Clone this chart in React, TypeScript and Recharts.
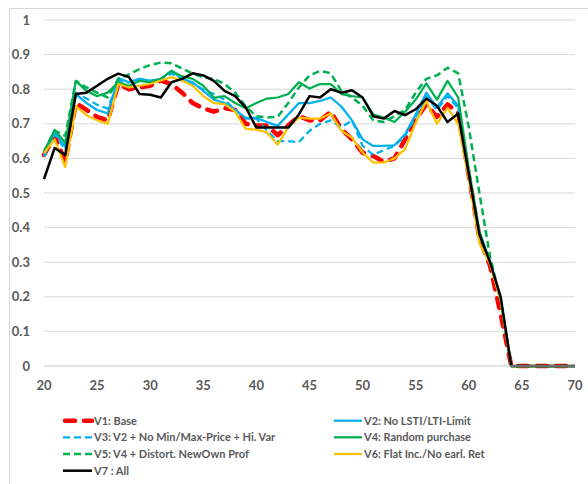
import React from "react";
import { LineChart, Line, XAxis, YAxis, CartesianGrid } from "recharts";

const ages = [20, 21, 22, 23, 24, 25, 26, 27, 28, 29, 30, 31, 32, 33, 34, 35, 36, 37, 38, 39, 40, 41, 42, 43, 44, 45, 46, 47, 48, 49, 50, 51, 52, 53, 54, 55, 56, 57, 58, 59, 60, 61, 62, 63, 64, 65, 66, 67, 68, 69, 70];

const v1Base = [0.61, 0.665, 0.59, 0.76, 0.74, 0.72, 0.71, 0.815, 0.8, 0.805, 0.81, 0.825, 0.815, 0.79, 0.76, 0.745, 0.735, 0.745, 0.74, 0.7, 0.695, 0.695, 0.667, 0.695, 0.722, 0.71, 0.71, 0.735, 0.685, 0.655, 0.616, 0.607, 0.59, 0.6, 0.655, 0.712, 0.756, 0.72, 0.756, 0.733, 0.55, 0.37, 0.29, 0.15, 0, 0, 0, 0, 0, 0, 0];
const v2NoLimit = [0.61, 0.675, 0.635, 0.786, 0.76, 0.74, 0.73, 0.832, 0.82, 0.83, 0.825, 0.83, 0.853, 0.83, 0.82, 0.795, 0.77, 0.76, 0.74, 0.717, 0.717, 0.705, 0.694, 0.727, 0.76, 0.76, 0.766, 0.776, 0.75, 0.71, 0.655, 0.636, 0.636, 0.638, 0.67, 0.727, 0.79, 0.747, 0.788, 0.752, 0.56, 0.38, 0.3, 0.19, 0, 0, 0, 0, 0, 0, 0];
const v3NoMinMax = [0.605, 0.67, 0.625, 0.79, 0.773, 0.755, 0.744, 0.824, 0.82, 0.83, 0.82, 0.83, 0.845, 0.83, 0.815, 0.8, 0.786, 0.77, 0.74, 0.715, 0.715, 0.68, 0.65, 0.65, 0.647, 0.68, 0.7, 0.71, 0.69, 0.71, 0.636, 0.61, 0.624, 0.636, 0.665, 0.72, 0.78, 0.74, 0.78, 0.745, 0.56, 0.38, 0.3, 0.19, 0, 0, 0, 0, 0, 0, 0];
const v4Random = [0.62, 0.682, 0.645, 0.824, 0.795, 0.78, 0.79, 0.82, 0.81, 0.824, 0.82, 0.83, 0.853, 0.837, 0.83, 0.81, 0.775, 0.78, 0.76, 0.745, 0.76, 0.773, 0.776, 0.786, 0.82, 0.802, 0.815, 0.815, 0.786, 0.78, 0.776, 0.727, 0.718, 0.705, 0.735, 0.77, 0.817, 0.77, 0.824, 0.776, 0.57, 0.39, 0.3, 0.19, 0, 0, 0, 0, 0, 0, 0];
const v5Distort = [0.62, 0.68, 0.665, 0.824, 0.805, 0.79, 0.776, 0.83, 0.843, 0.858, 0.87, 0.877, 0.875, 0.86, 0.845, 0.834, 0.83, 0.815, 0.79, 0.75, 0.722, 0.718, 0.72, 0.76, 0.805, 0.84, 0.853, 0.846, 0.795, 0.776, 0.752, 0.71, 0.705, 0.722, 0.74, 0.79, 0.83, 0.84, 0.862, 0.846, 0.69, 0.5, 0.316, 0.19, 0, 0, 0, 0, 0, 0, 0];
const v6Flat = [0.615, 0.655, 0.575, 0.75, 0.725, 0.71, 0.7, 0.815, 0.805, 0.81, 0.815, 0.825, 0.835, 0.825, 0.81, 0.78, 0.76, 0.757, 0.735, 0.685, 0.683, 0.675, 0.64, 0.69, 0.718, 0.715, 0.715, 0.73, 0.68, 0.66, 0.617, 0.588, 0.588, 0.6, 0.627, 0.703, 0.766, 0.7, 0.746, 0.7, 0.54, 0.355, 0.295, 0.19, 0, 0, 0, 0, 0, 0, 0];
const v7All = [0.54, 0.63, 0.61, 0.786, 0.79, 0.81, 0.83, 0.845, 0.835, 0.786, 0.784, 0.776, 0.82, 0.83, 0.846, 0.84, 0.824, 0.795, 0.78, 0.747, 0.689, 0.689, 0.689, 0.689, 0.727, 0.78, 0.776, 0.8, 0.79, 0.797, 0.776, 0.722, 0.715, 0.737, 0.725, 0.742, 0.773, 0.752, 0.705, 0.73, 0.555, 0.38, 0.3, 0.2, 0, 0, 0, 0, 0, 0, 0];

const xTicks = [20, 25, 30, 35, 40, 45, 50, 55, 60, 65, 70];
const yTicks = [0, 0.1, 0.2, 0.3, 0.4, 0.5, 0.6, 0.7, 0.8, 0.9, 1];

const seriesNames = [
  "V1: Base",
  "V2: No LSTI/LTI-Limit",
  "V3: V2 + No Min/Max-Price + Hi. Var",
  "V4: Random purchase",
  "V5: V4 + Distort. NewOwn Prof",
  "V6: Flat Inc./No earl. Ret",
  "V7 : All",
];
const seriesValues = [v1Base, v2NoLimit, v3NoMinMax, v4Random, v5Distort, v6Flat, v7All];

const styles = [
  { color: "#FF0000", width: 4.5, dash: "10 9", cap: "round" },
  { color: "#00B0F0", width: 2.25, dash: undefined, cap: "butt" },
  { color: "#00B0F0", width: 2.25, dash: "7 4", cap: "butt" },
  { color: "#00B050", width: 2.25, dash: undefined, cap: "butt" },
  { color: "#00B050", width: 2.5, dash: "7 4", cap: "butt" },
  { color: "#FFC000", width: 2.25, dash: undefined, cap: "butt" },
  { color: "#000000", width: 2.5, dash: undefined, cap: "butt" },
];

const data = ages.map((age, i) => {
  const row: Record<string, number> = { age };
  seriesValues.forEach((vals, s) => {
    row["s" + s] = vals[i];
  });
  return row;
});

const FONT = "Lato, 'Noto Sans', sans-serif";

function LegendBox() {
  const cols = [63, 334];
  const rows = [420.7, 437.3, 454, 470.7];
  return (
    <svg width={588} height={484} style={{ position: "absolute", left: 0, top: 0, pointerEvents: "none" }}>
      {seriesNames.map((name, i) => {
        const cx = cols[i % 2];
        const cy = rows[Math.floor(i / 2)];
        const st = styles[i];
        const x1 = i === 0 ? cx + 2 : cx;
        const x2 = i % 2 === 0 ? cx + 29 : cx + 28;
        return (
          <g key={name}>
            <line
              x1={x1}
              x2={x2}
              y1={cy}
              y2={cy}
              stroke={st.color}
              strokeWidth={st.width}
              strokeDasharray={st.dash}
              strokeLinecap={st.cap as any}
            />
            <text
              x={cx + (i % 2 === 0 ? 31 : 30)}
              y={cy + 4}
              fontFamily={FONT}
              fontWeight="bold"
              fontSize={11}
              fill="#595959"
            >
              {name}
            </text>
          </g>
        );
      })}
    </svg>
  );
}

export default function App() {
  return (
    <div
      style={{
        position: "absolute",
        left: 0,
        top: 0,
        width: 588,
        height: 484,
        overflow: "hidden",
        background: "#ffffff",
      }}
    >
      <div
        style={{
          position: "absolute",
          left: 9,
          top: 8,
          width: 640,
          height: 520,
          border: "1px solid #d9d9d9",
        }}
      />
      <div style={{ position: "absolute", left: 0, top: 0 }}>
        <LineChart
          width={588}
          height={484}
          data={data}
          margin={{ top: 20, right: 13, left: 0, bottom: 88 }}
        >
          <CartesianGrid vertical={false} stroke="#d9d9d9" strokeWidth={1} />
          <XAxis
            dataKey="age"
            type="number"
            domain={[20, 70]}
            ticks={xTicks}
            height={30}
            tickLine={false}
            tickSize={0}
            tickMargin={15}
            axisLine={{ stroke: "#d9d9d9" }}
            tick={{ fontFamily: FONT, fontWeight: "bold", fontSize: 13, fill: "#595959" }}
            interval={0}
          />
          <YAxis
            type="number"
            domain={[0, 1]}
            ticks={yTicks}
            width={44}
            axisLine={false}
            tickLine={false}
            tickSize={0}
            tickMargin={14}
            tick={{ fontFamily: FONT, fontWeight: "bold", fontSize: 13, fill: "#595959" }}
            interval={0}
          />
          {seriesNames.map((name, s) => (
            <Line
              key={name}
              name={name}
              dataKey={"s" + s}
              type="linear"
              stroke={styles[s].color}
              strokeWidth={styles[s].width}
              strokeDasharray={styles[s].dash}
              strokeLinecap={styles[s].cap as any}
              strokeLinejoin="round"
              dot={false}
              activeDot={false}
              isAnimationActive={false}
            />
          ))}
        </LineChart>
      </div>
      <LegendBox />
    </div>
  );
}
